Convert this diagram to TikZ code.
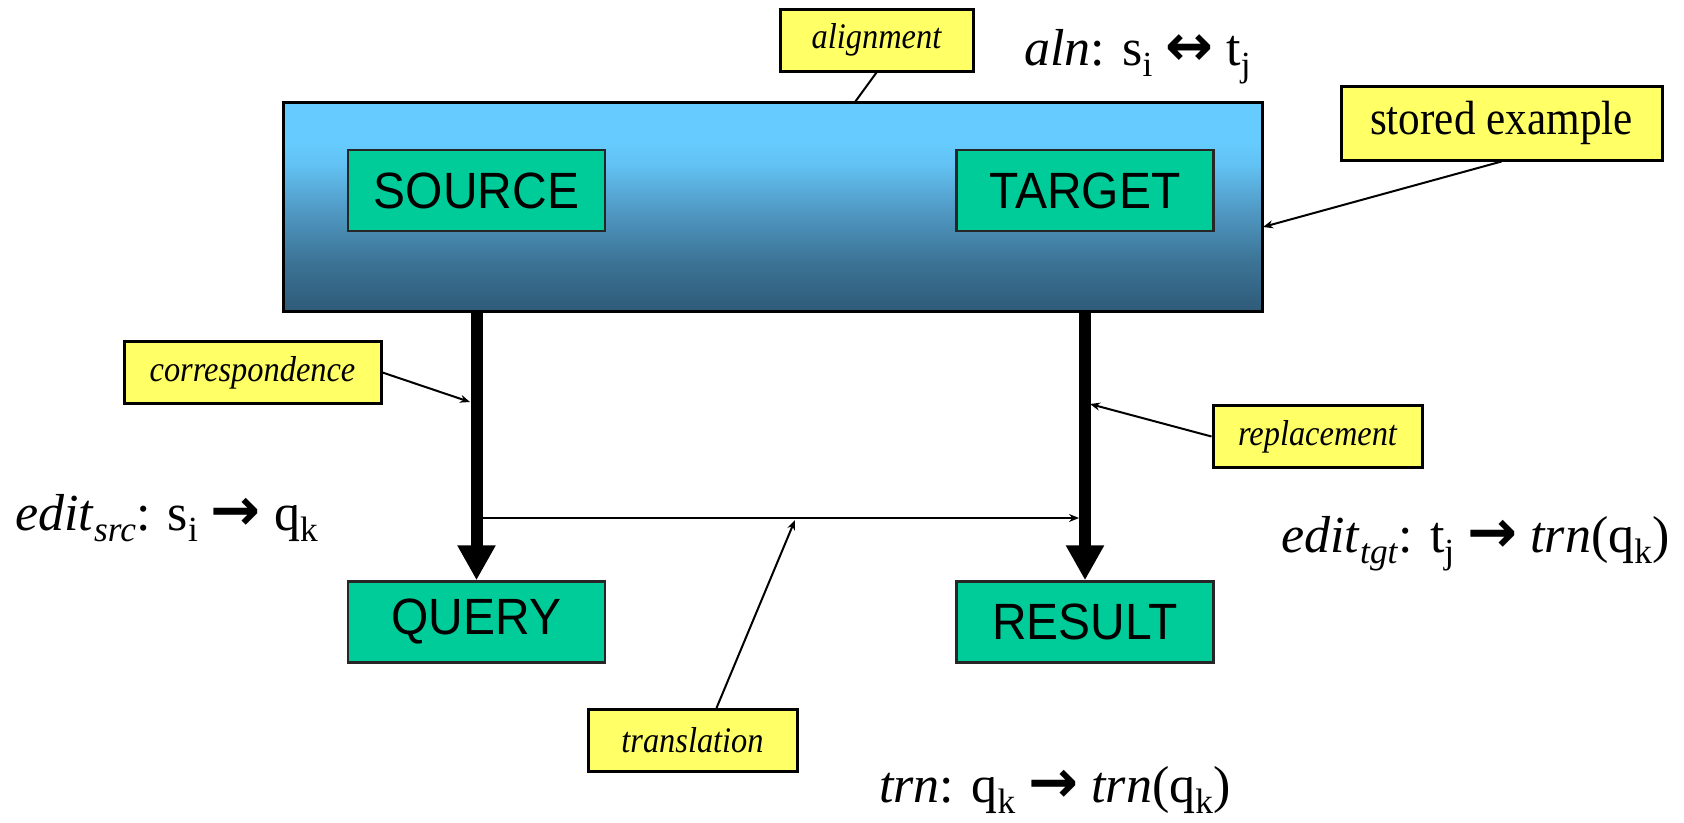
\documentclass[tikz,border=0pt]{standalone}
\usepackage{fontspec}
\setmainfont{Liberation Serif}
\newfontfamily\tnr[FakeStretch=0.9]{Liberation Serif}
\newfontfamily\ari[FakeStretch=0.94]{Liberation Sans}
\newfontfamily\arr{DejaVu Sans}
\usetikzlibrary{arrows.meta}
\definecolor{boxgreen}{HTML}{00CC99}
\definecolor{noteyellow}{HTML}{FFFF66}
\pgfdeclareverticalshading{exshade}{100bp}{
  color(0bp)=({rgb,255:red,46;green,91;blue,120});
  color(25bp)=({rgb,255:red,46;green,91;blue,120});
  color(37bp)=({rgb,255:red,60;green,116;blue,150});
  color(50bp)=({rgb,255:red,82;green,156;blue,200});
  color(60bp)=({rgb,255:red,98;green,194;blue,243});
  color(66bp)=({rgb,255:red,102;green,204;blue,255});
  color(75bp)=({rgb,255:red,102;green,204;blue,255});
  color(100bp)=({rgb,255:red,102;green,204;blue,255})}
\newcommand\lo[1]{\raisebox{-0.22em}{\scalebox{0.68}{#1}}}
\newcommand\rarr{\scalebox{1.15}{\arr\bfseries\symbol{"2192}}}
\newcommand\lrarr{\scalebox{1.1}{\arr\bfseries\symbol{"2194}}}
\tikzset{
  x=1pt,y=-1pt,
  bigbox/.style={draw=black,line width=3pt,shading=exshade,inner sep=0pt},
  greenbox/.style={draw=black!85,fill=boxgreen,line width=2.5pt,inner sep=0pt,
    minimum width=257pt,minimum height=81pt,font=\ari\fontsize{51}{56}\selectfont},
  note/.style={draw=black,fill=noteyellow,line width=3pt,inner sep=0pt,
    minimum height=62pt,font=\tnr\itshape\fontsize{36}{40}\selectfont},
  formula/.style={anchor=base west,inner sep=0pt,font=\fontsize{52}{60}\selectfont},
  thickarrow/.style={line width=12pt,-{Triangle[width=36pt,length=35pt]}},
  callout/.style={line width=2pt,-{Stealth[length=10pt,width=8pt]}},
  plainline/.style={line width=2pt}
}
\begin{document}
\begin{tikzpicture}
\useasboundingbox (0,0) rectangle (1684,822);
% stored example
\node[bigbox,minimum width=979pt,minimum height=209pt] (ex) at (772.5,206.5) {};
\node[greenbox] (src) at (476.5,190.5) {SOURCE};
\node[greenbox] (tgt) at (1085,190.5) {TARGET};
\node[greenbox] (qry) at (476.5,622) {QUERY};
\node[greenbox] (res) at (1085,622) {RESULT};
% notes
\node[note,minimum width=193pt] (aln) at (876.5,40) {alignment};
\node[note,minimum width=321pt,minimum height=74pt,font=\tnr\fontsize{48}{54}\selectfont] (sto) at (1501.5,123) {stored example};
\node[note,minimum width=257pt] (cor) at (252.5,372.5) {correspondence};
\node[note,minimum width=209pt] (rep) at (1317.5,436.5) {replacement};
\node[note,minimum width=209pt] (tra) at (692.5,740.5) {translation};
% formulas
\node[formula] (falign) at (1024,65) {\textit{aln}: s\lo{i} \lrarr\ t\lo{j}};
\node[formula] (fsrc) at (15,530) {\textit{edit}\lo{\textit{src}}: s\lo{i} \rarr\ q\lo{k}};
\node[formula] (ftgt) at (1281,552) {\textit{edit}\lo{\textit{tgt}}: t\lo{j} \rarr\ \textit{trn}(q\lo{k})};
\node[formula] (ftrn) at (879,802) {\textit{trn}: q\lo{k} \rarr\ \textit{trn}(q\lo{k})};
% thick arrows
\draw[thickarrow] (ex.south -| qry.north) -- (qry.north);
\draw[thickarrow] (ex.south -| res.north) -- (res.north);
% translation line
\coordinate (hl) at (483,518);
\coordinate (hr) at (1079,518);
\draw[callout] (hl) -- (hr);
% callouts
\coordinate (alnEnd) at (855,102);
\coordinate (stoEnd) at (1263,227);
\coordinate (corEnd) at (470,402);
\coordinate (repEnd) at (1090,404);
\coordinate (traEnd) at (795,520);
\draw[plainline] (aln.south) -- (alnEnd);
\draw[callout] (sto.south) -- (stoEnd);
\draw[callout] (cor.east) -- (corEnd);
\draw[callout] (rep.west) -- (repEnd);
\draw[callout] ([xshift=24pt]tra.north) -- (traEnd);
\end{tikzpicture}
\end{document}
